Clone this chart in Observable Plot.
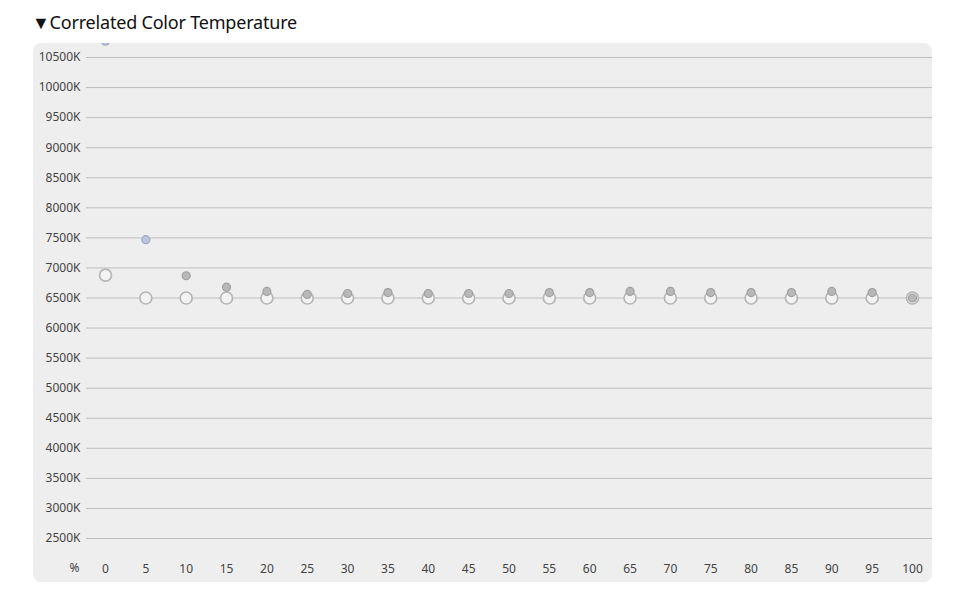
<!DOCTYPE html>
<html>
<head>
<meta charset="utf-8">
<script src="https://cdn.jsdelivr.net/npm/d3@7"></script>
<script src="https://cdn.jsdelivr.net/npm/@observablehq/plot@0.6"></script>
<style>
  html, body { margin: 0; padding: 0; background: #fff; }
  body { width: 959px; height: 597px; position: relative; font-family: "Noto Sans", sans-serif; }
  #title { position: absolute; left: 32px; top: 9px; font-size: 18px; color: #111; line-height: 26px; letter-spacing: -0.2px; }
  #panel { position: absolute; left: 33px; top: 43px; width: 899px; height: 539px; background: #eeeeee; border-radius: 8px; overflow: hidden; }
  #panel svg { overflow: hidden; display: block; }
</style>
</head>
<body>
<div id="title">▼Correlated Color Temperature</div>
<div id="panel"></div>
<script>
// Percent steps (x)
const pct = [0, 5, 10, 15, 20, 25, 30, 35, 40, 45, 50, 55, 60, 65, 70, 75, 80, 85, 90, 95, 100];
// Large hollow circles (K)
const cctLarge = [6880, 6500, 6500, 6500, 6500, 6500, 6500, 6500, 6500, 6500, 6500, 6500, 6500, 6500, 6500, 6500, 6500, 6500, 6500, 6500, 6500];
// Small filled circles (K)
const cctSmall = [10770, 7470, 6870, 6680, 6610, 6560, 6575, 6590, 6575, 6575, 6575, 6590, 6590, 6610, 6610, 6590, 6590, 6590, 6610, 6590, 6500];
// Y tick values
const yTicks = [2500, 3000, 3500, 4000, 4500, 5000, 5500, 6000, 6500, 7000, 7500, 8000, 8500, 9000, 9500, 10000, 10500];

const large = pct.map((p, i) => ({pct: p, cct: cctLarge[i]}));
const small = pct.map((p, i) => ({pct: p, cct: cctSmall[i]}));

const chart = Plot.plot({
  width: 899,
  height: 539,
  marginLeft: 53,
  marginRight: 0,
  marginTop: 14,
  marginBottom: 44,
  style: { background: "transparent", fontFamily: "Noto Sans, sans-serif", fontSize: "12px", color: "#444" },
  x: { domain: [0, 100], insetLeft: 19, insetRight: 20 },
  y: { domain: [2500, 10500], clamp: false },
  marks: [
    Plot.gridY(yTicks, { stroke: "#bfbfbf", strokeOpacity: 1, strokeWidth: 1 }),
    Plot.axisY(yTicks, { tickSize: 0, tickPadding: 6, tickFormat: d => `${d}K`, fill: "#444", label: null }),
    Plot.axisX(pct, { tickSize: 0, tickPadding: 26, tickFormat: d => `${d}`, fill: "#444", label: null }),
    Plot.text(["%"], { frameAnchor: "bottom-left", dx: -17, dy: 33, fill: "#444", fontSize: 12 }),
    Plot.dot(large, { x: "pct", y: "cct", r: 6, fill: "#f3f3f3", stroke: "#b6b6b6", strokeWidth: 1.7 }),
    Plot.dot(small, {
      x: "pct", y: "cct", r: 4,
      fill: d => d.cct > 7000 ? "#bcc4dc" : "#b8b8b8",
      stroke: d => d.cct > 7000 ? "#9ea9c6" : "#a0a0a0",
      strokeWidth: 1.2
    })
  ]
});
document.getElementById("panel").appendChild(chart);
</script>
</body>
</html>
